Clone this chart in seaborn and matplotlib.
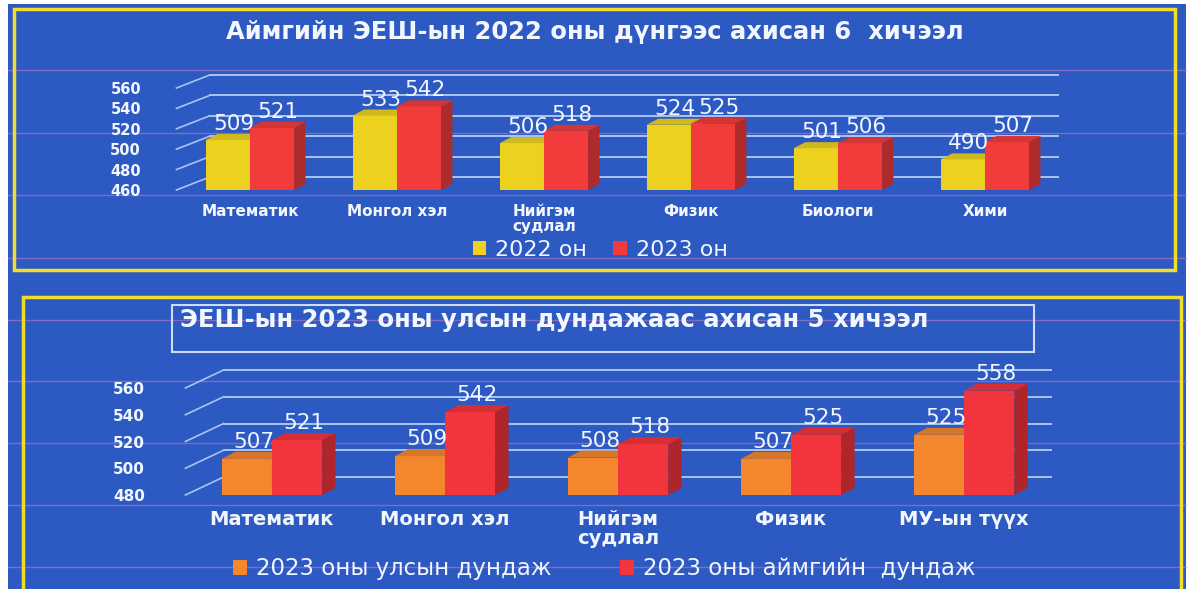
import numpy as np
import pandas as pd
import seaborn as sns
import matplotlib
matplotlib.use('Agg')
import matplotlib.pyplot as plt
import matplotlib.colors as mcolors
from matplotlib.patches import Rectangle, Polygon, Patch
from matplotlib.lines import Line2D

# Top chart data
top_title = 'Аймгийн ЭЕШ-ын 2022 оны дүнгээс ахисан 6  хичээл'
top_subjects = ['Математик', 'Монгол хэл', 'Нийгэм\nсудлал', 'Физик', 'Биологи', 'Хими']
top_series = ['2022 он', '2023 он']
top_2022 = [509, 533, 506, 524, 501, 490]
top_2023 = [521, 542, 518, 525, 506, 507]
top_ticks = [460, 480, 500, 520, 540, 560]

# Bottom chart data
bot_title = 'ЭЕШ-ын 2023 оны улсын дундажаас ахисан 5 хичээл'
bot_subjects = ['Математик', 'Монгол хэл', 'Нийгэм\nсудлал', 'Физик', 'МУ-ын түүх']
bot_series = ['2023 оны улсын дундаж', '2023 оны аймгийн  дундаж']
bot_national = [507, 509, 508, 507, 525]
bot_aimag = [521, 542, 518, 525, 558]
bot_ticks = [480, 500, 520, 540, 560]

BLUE = '#2d59c2'
YELLOW_BORDER = '#f2dc2a'
GRID = '#a9c4f2'
TXT = '#f2f6ff'
W, H = 1190, 589

plt.rcParams['font.family'] = ['DejaVu Sans']


def fx(x):
    return x / W


def fy(y):
    return 1 - y / H


def draw_panel(ax, subjects, v1, v2, names, colors, ticks, width,
               wall, depth, tick_fs, cat_fs, val_fs, tick_pad, cat_pad):
    n = len(subjects)
    df = pd.DataFrame({'subject': subjects * 2,
                       'series': [names[0]] * n + [names[1]] * n,
                       'value': v1 + v2})
    sns.barplot(data=df, x='subject', y='value', hue='series', order=subjects,
                hue_order=names, palette=colors, width=width, saturation=1,
                errorbar=None, legend=False, ax=ax, zorder=3, linewidth=0)
    base = ticks[0]
    ax.set_ylim(ticks[0], ticks[-1])
    ax.set_yticks(ticks)
    ax.set_xlabel('')
    ax.set_ylabel('')
    for s in ax.spines.values():
        s.set_visible(False)
    ax.set_facecolor('none')
    ax.tick_params(axis='y', length=0, colors=TXT, labelsize=tick_fs, pad=tick_pad)
    ax.tick_params(axis='x', length=0, colors=TXT, labelsize=cat_fs, pad=cat_pad)
    for lab in ax.get_yticklabels() + ax.get_xticklabels():
        lab.set_fontweight('bold')
    for lab in ax.get_xticklabels():
        lab.set_linespacing(1.0)

    bb = ax.get_window_extent()
    x0, x1 = ax.get_xlim()
    y0, y1 = ax.get_ylim()
    kx = (x1 - x0) / bb.width
    ky = (y1 - y0) / bb.height

    # back wall gridlines + slanted floor lines
    wdx, wdy = wall[0] * kx, wall[1] * ky
    for t in ticks:
        ax.plot([x0 + wdx, x1], [t + wdy, t + wdy], color=GRID, lw=1.4,
                zorder=1, clip_on=False)
        ax.plot([x0, x0 + wdx], [t, t + wdy], color=GRID, lw=1.2,
                zorder=1, clip_on=False)

    # pseudo 3D bars
    ddx, ddy = depth[0] * kx, depth[1] * ky
    for lvl, cont in enumerate(ax.containers):
        z = 3 + lvl
        for p in cont.patches:
            val = p.get_height()
            p.set_y(base)
            p.set_height(val - base)
            p.set_zorder(z + 0.5)
            x, w = p.get_x(), p.get_width()
            c = np.array(mcolors.to_rgb(p.get_facecolor()))
            side = [(x + w, base), (x + w + ddx, base + ddy),
                    (x + w + ddx, val + ddy), (x + w, val)]
            top = [(x, val), (x + ddx, val + ddy), (x + w + ddx, val + ddy), (x + w, val)]
            ax.add_patch(Polygon(side, closed=True, fc=c * 0.72, ec='none',
                                 zorder=z + 0.5, clip_on=False))
            ax.add_patch(Polygon(top, closed=True, fc=c * 0.88, ec='none',
                                 zorder=z + 0.5, clip_on=False))
            ax.text(x + w / 2 + ddx / 2, val + ddy, f'{val:.0f}', ha='center',
                    va='bottom', color=TXT, fontsize=val_fs, zorder=10, clip_on=False)


fig = plt.figure(figsize=(W / 100, H / 100), dpi=100, facecolor='white')

# blue background and scan lines
fig.add_artist(Rectangle((fx(8), fy(589)), fx(1186) - fx(8), fy(4) - fy(589),
                         transform=fig.transFigure, fc=BLUE, ec='none', zorder=-3))
for yy in [70, 133, 195, 258, 320, 381, 443, 505, 567]:
    fig.add_artist(Line2D([fx(8), fx(1186)], [fy(yy), fy(yy)], transform=fig.transFigure,
                          color='#c47ac8', lw=1, alpha=0.55, zorder=-2))

# yellow frames
fig.add_artist(Rectangle((fx(14), fy(270)), fx(1175) - fx(14), fy(9) - fy(270),
                         transform=fig.transFigure, fc='none', ec=YELLOW_BORDER, lw=2.5, zorder=20))
fig.add_artist(Rectangle((fx(23), fy(600)), fx(1181) - fx(23), fy(297) - fy(600),
                         transform=fig.transFigure, fc='none', ec=YELLOW_BORDER, lw=2.5,
                         zorder=20, clip_on=False))

# top panel
ax1 = fig.add_axes([fx(166), fy(190), fx(1093) - fx(166), fy(88) - fy(190)])
ax1.set_xlim(-0.571, 5.735)
draw_panel(ax1, top_subjects, top_2022, top_2023, top_series, ['#ecd21e', '#f23c3c'],
           top_ticks, 0.6, wall=(35, 13), depth=(12, 6), tick_fs=10.5, cat_fs=11,
           val_fs=15.5, tick_pad=18, cat_pad=10)
ax1.set_xlim(-0.571, 5.735)
fig.text(fx(595), fy(32), top_title, ha='center', va='center', color=TXT,
         fontsize=17.5, fontweight='bold')
fig.legend(handles=[Patch(fc='#ecd21e'), Patch(fc='#f23c3c')], labels=top_series,
           loc='center', bbox_to_anchor=(fx(600), fy(250)), ncol=2, frameon=False,
           handlelength=0.6, handleheight=0.6, handletextpad=0.4, columnspacing=1.2,
           fontsize=16, labelcolor=TXT)

# bottom panel
ax2 = fig.add_axes([fx(174), fy(495), fx(1080) - fx(174), fy(388) - fy(495)])
ax2.set_xlim(-0.566, 4.67)
draw_panel(ax2, bot_subjects, bot_national, bot_aimag, bot_series, ['#f4862e', '#f2343c'],
           bot_ticks, 0.58, wall=(40, 18), depth=(14, 7), tick_fs=11, cat_fs=14,
           val_fs=15.5, tick_pad=21, cat_pad=11)
ax2.set_xlim(-0.566, 4.67)
fig.add_artist(Rectangle((fx(172), fy(352)), fx(1034) - fx(172), fy(305) - fy(352),
                         transform=fig.transFigure, fc='none', ec='#cfdcf5', lw=1.5, zorder=5))
fig.text(fx(180), fy(320), bot_title, ha='left', va='center', color=TXT,
         fontsize=17.5, fontweight='bold')
fig.legend(handles=[Patch(fc='#f4862e'), Patch(fc='#f2343c')], labels=bot_series,
           loc='center', bbox_to_anchor=(fx(604), fy(569)), ncol=2, frameon=False,
           handlelength=0.6, handleheight=0.6, handletextpad=0.4, columnspacing=3.0,
           fontsize=16.5, labelcolor=TXT)

fig.savefig('out.png', dpi=100)
